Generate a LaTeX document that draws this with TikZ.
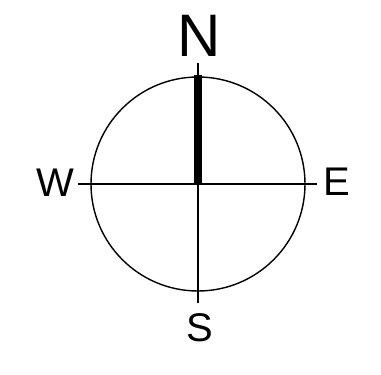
\documentclass[tikz,border=0pt]{standalone}
\usepackage{fontspec}
\setmainfont{Liberation Sans}
\begin{document}
\begin{tikzpicture}[x=1pt,y=1pt,
  lbl/.style={inner sep=0pt, anchor=base, font=\fontsize{40}{40}\selectfont},
  thin/.style={line width=1.4pt, black},
  needle/.style={line width=8pt, black}]
\useasboundingbox (0,0) rectangle (381,375);
\coordinate (C) at (198,191);
\node[draw, thin, circle, minimum size=214pt, inner sep=0pt] (ring) at (C) {};
\coordinate (Wend) at (78,191);
\coordinate (Eend) at (317,191);
\coordinate (Ntip) at (198,312);
\coordinate (Send) at (198,72);
\coordinate (Nbar) at (198,300);
\draw[thin] (Wend) -- (Eend);
\draw[thin] (Ntip) -- (Send);
\draw[needle] (C) -- (Nbar);
\node[lbl, font=\fontsize{60}{60}\selectfont] (N) at (199,318) {N};
\node[lbl] (W) at (55,178) {W};
\node[lbl] (E) at (337,179) {E};
\node[lbl] (S) at (200,33) {S};
\end{tikzpicture}
\end{document}
